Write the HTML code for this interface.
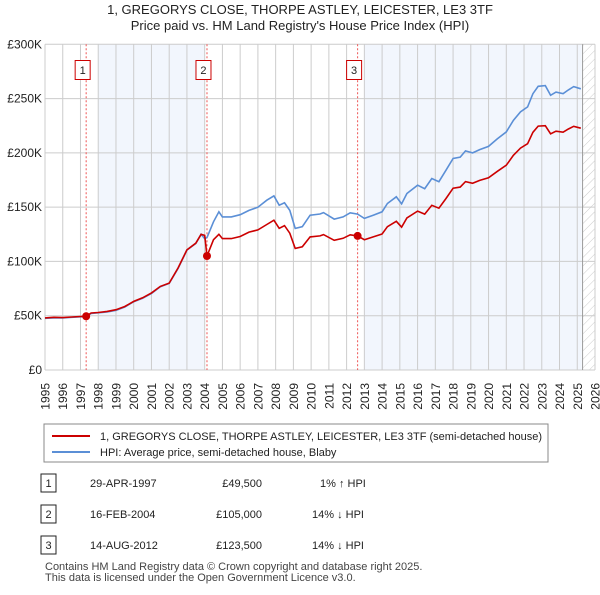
<!DOCTYPE html>
<html><head><meta charset="utf-8"><style>
body{margin:0;background:#fff;font-family:"Liberation Sans",sans-serif;}
svg text{font-family:"Liberation Sans",sans-serif;}
</style></head><body>
<svg id="c" width="600" height="590" viewBox="0 0 600 590">
<defs><pattern id="hatch" width="6" height="6" patternUnits="userSpaceOnUse" patternTransform="rotate(45)"><line x1="0" y1="0" x2="0" y2="6" stroke="#ccc" stroke-width="1"/></pattern></defs>
<text x="300" y="14" text-anchor="middle" font-size="13" fill="#222">1, GREGORYS CLOSE, THORPE ASTLEY, LEICESTER, LE3 3TF</text>
<text x="300" y="30" text-anchor="middle" font-size="13" fill="#222">Price paid vs. HM Land Registry's House Price Index (HPI)</text>
<g id="plot"></g>
<g>
<rect x="44" y="424" width="504" height="38" fill="#fff" stroke="#888"/>
<line x1="52" y1="436" x2="90" y2="436" stroke="#cc0000" stroke-width="2"/>
<text x="100" y="440" font-size="11" fill="#222">1, GREGORYS CLOSE, THORPE ASTLEY, LEICESTER, LE3 3TF (semi-detached house)</text>
<line x1="52" y1="452" x2="90" y2="452" stroke="#5b8fd6" stroke-width="2"/>
<text x="100" y="456" font-size="11" fill="#222">HPI: Average price, semi-detached house, Blaby</text>
</g>
<g font-size="11" fill="#222">
<rect x="41" y="474" width="15" height="18" fill="#fff" stroke="#222"/><text x="48.5" y="487" text-anchor="middle">1</text>
<text x="90" y="487">29-APR-1997</text><text x="262" y="487" text-anchor="end">£49,500</text><text x="320" y="487">1% ↑ HPI</text>
<rect x="41" y="505" width="15" height="18" fill="#fff" stroke="#222"/><text x="48.5" y="518" text-anchor="middle">2</text>
<text x="90" y="518">16-FEB-2004</text><text x="262" y="518" text-anchor="end">£105,000</text><text x="312" y="518">14% ↓ HPI</text>
<rect x="41" y="536" width="15" height="18" fill="#fff" stroke="#222"/><text x="48.5" y="549" text-anchor="middle">3</text>
<text x="90" y="549">14-AUG-2012</text><text x="262" y="549" text-anchor="end">£123,500</text><text x="312" y="549">14% ↓ HPI</text>
</g>
<text x="45" y="570" font-size="11" fill="#444">Contains HM Land Registry data © Crown copyright and database right 2025.</text>
<text x="45" y="581" font-size="11" fill="#444">This data is licensed under the Open Government Licence v3.0.</text>
</svg>
<script>
const years=[1995,1995.5,1996,1996.5,1997,1997.3,1997.6,1998,1998.5,1999,1999.5,2000,2000.5,2001,2001.5,2002,2002.5,2003,2003.5,2003.8,2004,2004.13,2004.5,2004.8,2005,2005.5,2006,2006.5,2007,2007.5,2007.9,2008.2,2008.5,2008.8,2009.1,2009.5,2009.94,2010.5,2010.7,2011.3,2011.8,2012.2,2012.62,2013,2013.5,2014,2014.3,2014.8,2015.1,2015.4,2016,2016.4,2016.8,2017.2,2017.6,2018,2018.4,2018.7,2019.1,2019.5,2020,2020.5,2021,2021.4,2021.8,2022.2,2022.5,2022.8,2023.2,2023.5,2023.8,2024.2,2024.5,2024.8,2025.2];
const hpiValues=[47.6,48,48,48.5,49,49.2,52,52.7,53.5,55,58,62.9,66,70.6,76.7,79.8,93.6,110.4,116.6,125,121,122,136.5,145.7,141,141,143,147,150,156.4,160.4,151.8,154,147,130.4,132,142.6,143.7,145,139,141,144.8,143.6,139.6,142.6,145.7,153.4,159.5,153,162.6,170.2,167,176.4,173.4,184,194.8,196,201.8,200,203,206,213,219.3,230,237.7,242.3,254.5,261.3,262,253,256,254.5,258,261,259];
const priceValues=[48,48.5,48.3,48.8,49.3,49.5,52.5,53,54,55.5,58.5,63.2,66.5,71,77,80,94,110.6,116.8,125,124,105,120,125,121,121,123,127,129,134,138,130.5,133,126,112,113.5,122.6,123.5,124.7,119.5,121.3,124.5,123.5,120,122.6,125.3,132,137,131.6,140,146.4,143.6,151.7,149,158,167.5,168.5,173.5,172,174.6,177,183,188.6,197.8,204.4,208.4,218.9,224.7,225,217.6,220,219,222,224.5,222.7];
const saleYears=[1997.32,2004.13,2012.62];
const saleValues=[49.5,105,123.5];
const saleLabels=["1","2","3"];
const yTicks=[0,50,100,150,200,250,300];
const yTickLabels=["£0","£50K","£100K","£150K","£200K","£250K","£300K"];
const xTicks=[1995,1996,1997,1998,1999,2000,2001,2002,2003,2004,2005,2006,2007,2008,2009,2010,2011,2012,2013,2014,2015,2016,2017,2018,2019,2020,2021,2022,2023,2024,2025,2026];
const shadeBands=[[1998,2004],[2013,2025.25]];

const X0=45,X1=595,Y0=370,Y1=44.3;
const xs=y=>X0+(y-1995)/(2026-1995)*(X1-X0);
const ys=v=>Y0-v/300*(Y0-Y1);
const NS="http://www.w3.org/2000/svg";
const g=document.getElementById('plot');
function mk(t,a,p){const e=document.createElementNS(NS,t);for(const k in a)e.setAttribute(k,a[k]);(p||g).appendChild(e);return e;}
shadeBands.forEach(b=>{const r=mk('rect',{x:xs(b[0]),y:Y1,width:xs(b[1])-xs(b[0]),height:Y0-Y1,fill:'#f2f6fd'});

});
const h=mk('rect',{x:xs(2025.3),y:Y1,width:X1-xs(2025.3),height:Y0-Y1,fill:'url(#hatch)'});


xTicks.forEach(t=>{const l=mk('line',{x1:xs(t),x2:xs(t),y1:Y1,y2:Y0,stroke:'#cccccc'});


const tx=mk('text',{x:0,y:0,'text-anchor':'end','font-size':'12',fill:'#222',transform:'translate('+(xs(t)+4.5)+',383) rotate(-90)'});tx.textContent=t;

});
yTicks.forEach((t,i)=>{const l=mk('line',{x1:X0,x2:X1,y1:ys(t),y2:ys(t),stroke:'#cccccc'});


const tx=mk('text',{x:X0-3,y:ys(t)+4,'text-anchor':'end','font-size':'12',fill:'#222'});tx.textContent=yTickLabels[i];

});
const nl=mk('line',{x1:xs(2025.3),x2:xs(2025.3),y1:Y1,y2:Y0,stroke:'#999'});


saleYears.forEach((s,i)=>{const l=mk('line',{x1:xs(s),x2:xs(s),y1:Y1,y2:Y0,stroke:'#ee5555','stroke-dasharray':'2,2'});

});
function path(vals,col,name){const d=years.map((y,i)=>(i?'L':'M')+xs(y).toFixed(1)+','+ys(vals[i]).toFixed(1)).join('');
const p=mk('path',{d:d,fill:'none',stroke:col,'stroke-width':'1.6'});

}
path(hpiValues,'#5b8fd6','hpi-line');
path(priceValues,'#cc0000','price-paid-line');
saleYears.forEach((s,i)=>{const c=mk('circle',{cx:xs(s),cy:ys(saleValues[i]),r:4,fill:'#cc0000'});


const bx=mk('rect',{x:xs(s)-11,y:60.5,width:15,height:19,fill:'#fff',stroke:'#cc0000'});


const t=mk('text',{x:xs(s)-3.5,y:74,'text-anchor':'middle','font-size':'11',fill:'#222'});t.textContent=saleLabels[i];

});
</script>
</body></html>
